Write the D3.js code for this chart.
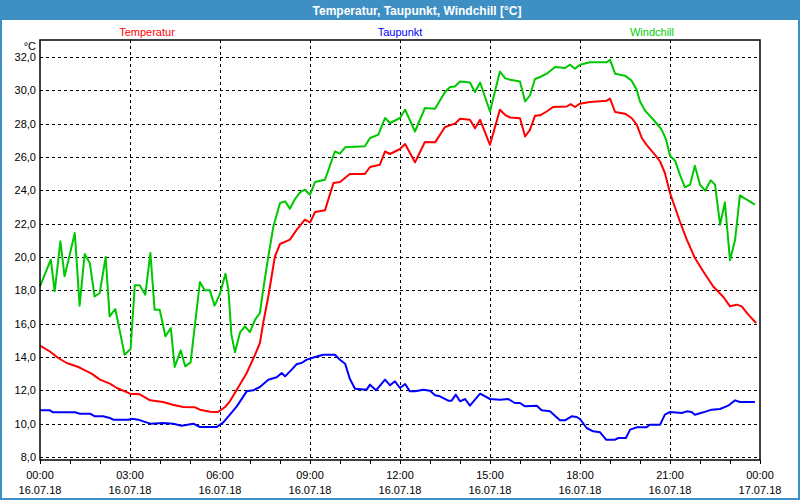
<!DOCTYPE html>
<html><head><meta charset="utf-8">
<script src="https://cdn.jsdelivr.net/npm/d3@7"></script>
<style>
html,body{margin:0;padding:0;background:#fff;}
svg{display:block;font-family:"Liberation Sans",Arial,sans-serif;}
</style></head>
<body><svg id="c" width="800" height="500"></svg>
<script>
const title = "Temperatur, Taupunkt, Windchill [°C]";
const seriesNames = ["Temperatur", "Taupunkt", "Windchill"];
const seriesColors = ["#ff0000", "#0000ff", "#00c800"];
const legendColors = ["#ff0000", "#0000ff", "#00d000"];
const unitLabel = "°C";

const xTickHours = [0, 3, 6, 9, 12, 15, 18, 21, 24];
const xTickTimes = ["00:00","03:00","06:00","09:00","12:00","15:00","18:00","21:00","00:00"];
const xTickDates = ["16.07.18","16.07.18","16.07.18","16.07.18","16.07.18","16.07.18","16.07.18","16.07.18","17.07.18"];
const yTicks = [8, 10, 12, 14, 16, 18, 20, 22, 24, 26, 28, 30, 32];

const tempHours = [0.00,0.33,0.61,0.89,1.28,1.50,1.72,2.00,2.33,2.56,2.83,3.00,3.33,3.67,4.10,4.43,4.77,5.17,5.33,5.67,5.93,6.17,6.33,6.56,6.89,7.17,7.33,7.44,7.61,7.83,8.00,8.33,8.56,8.83,9.00,9.17,9.50,9.78,10.00,10.33,10.83,11.00,11.33,11.50,11.67,12.00,12.17,12.50,12.83,13.17,13.50,13.83,14.00,14.33,14.50,14.67,15.00,15.33,15.50,15.67,16.00,16.17,16.33,16.50,16.67,16.89,17.10,17.56,17.69,17.83,18.00,18.33,18.89,19.00,19.17,19.50,19.72,19.89,20.06,20.22,20.50,20.67,20.83,21.00,21.33,21.56,21.83,22.11,22.44,22.78,23.00,23.22,23.39,23.61,23.87];
const tempValues = [14.68,14.33,13.94,13.64,13.40,13.20,13.00,12.64,12.40,12.14,11.94,11.80,11.76,11.40,11.30,11.14,11.00,10.98,10.84,10.72,10.70,11.00,11.34,12.04,13.04,14.14,14.84,16.04,17.63,20.03,20.78,21.04,21.64,22.24,22.07,22.70,22.80,24.44,24.50,24.98,24.98,25.40,25.54,26.33,26.18,26.48,26.78,25.68,26.90,26.88,27.80,28.00,28.29,28.23,27.73,28.23,26.73,28.83,28.53,28.37,28.33,27.23,27.63,28.47,28.50,28.73,29.00,29.03,29.17,29.00,29.20,29.30,29.38,29.50,28.70,28.60,28.34,27.94,27.14,26.73,26.13,25.73,25.04,23.84,22.13,21.04,19.94,19.13,18.23,17.60,17.04,17.14,17.04,16.54,16.04];

const dewHours = [0.00,0.33,0.44,1.17,1.33,1.67,1.83,2.10,2.33,2.44,2.94,3.06,3.27,3.67,4.11,4.44,4.72,5.11,5.33,5.89,6.11,6.33,6.56,6.89,7.11,7.33,7.61,7.89,8.06,8.17,8.39,8.56,8.72,8.89,9.17,9.44,9.83,10.00,10.17,10.33,10.50,10.89,11.00,11.20,11.50,11.67,11.83,12.00,12.17,12.33,12.50,12.78,13.00,13.17,13.33,13.61,13.72,13.86,14.00,14.17,14.33,14.67,15.00,15.33,15.61,15.83,16.00,16.17,16.56,16.72,17.00,17.33,17.50,17.72,17.89,18.00,18.22,18.44,18.67,18.87,19.17,19.28,19.53,19.67,19.89,20.22,20.33,20.67,20.83,21.00,21.39,21.56,21.72,21.83,22.11,22.39,22.67,22.94,23.17,23.33,23.83];
const dewValues = [10.80,10.80,10.68,10.68,10.60,10.60,10.44,10.44,10.34,10.24,10.24,10.30,10.24,10.00,10.04,10.00,9.88,10.00,9.80,9.80,10.08,10.54,11.04,11.94,12.00,12.20,12.64,12.78,13.04,12.84,13.24,13.58,13.64,13.84,14.00,14.14,14.14,13.84,13.60,12.68,12.10,12.04,12.34,12.00,12.64,12.30,12.54,12.14,12.38,11.94,11.94,12.04,11.98,11.70,11.64,11.38,11.38,11.74,11.34,11.48,11.08,11.80,11.48,11.44,11.48,11.24,11.24,11.04,11.08,10.80,10.74,10.20,10.20,10.44,10.40,10.28,9.74,9.54,9.48,9.04,9.04,9.14,9.14,9.64,9.78,9.78,9.94,9.94,10.54,10.70,10.64,10.74,10.70,10.54,10.68,10.84,10.88,11.08,11.40,11.30,11.30];

const chillHours = [0.00,0.36,0.49,0.68,0.82,1.16,1.32,1.49,1.66,1.82,1.99,2.19,2.32,2.51,2.82,3.02,3.16,3.32,3.51,3.68,3.82,3.99,4.18,4.36,4.49,4.69,4.84,5.02,5.33,5.49,5.66,5.82,5.99,6.18,6.28,6.38,6.50,6.67,6.83,7.00,7.17,7.33,7.44,7.61,7.78,8.00,8.17,8.33,8.50,8.67,8.83,9.00,9.17,9.50,9.83,10.00,10.17,10.83,11.00,11.28,11.50,11.67,12.00,12.17,12.50,12.83,13.17,13.50,13.67,13.83,14.00,14.33,14.50,14.67,15.00,15.33,15.50,15.67,16.00,16.17,16.33,16.50,16.67,16.89,17.17,17.50,17.67,17.83,18.00,18.33,18.89,19.00,19.17,19.50,19.72,19.89,20.00,20.17,20.50,20.72,20.87,21.00,21.17,21.33,21.50,21.67,21.83,22.00,22.17,22.36,22.50,22.67,22.83,23.00,23.17,23.33,23.56,23.83];
const chillValues = [18.24,19.84,17.94,20.94,18.84,21.44,17.08,20.18,19.64,17.63,17.84,20.00,16.44,16.88,14.14,14.48,18.30,18.30,17.74,20.24,16.84,16.84,15.24,15.74,13.40,14.40,13.44,13.68,18.50,18.00,18.00,17.08,17.74,19.00,18.04,15.34,14.28,15.48,15.84,15.50,16.24,16.64,18.04,20.03,21.83,23.24,23.34,22.90,23.48,23.88,24.04,23.74,24.50,24.64,26.33,26.20,26.58,26.64,27.14,27.34,28.34,28.04,28.34,28.84,27.53,28.94,28.90,29.90,30.20,30.23,30.53,30.47,29.90,30.47,28.73,31.13,30.73,30.63,30.53,29.33,29.69,30.68,30.80,31.00,31.40,31.34,31.54,31.30,31.54,31.68,31.68,31.84,31.00,30.88,30.58,30.04,29.33,28.78,28.13,27.64,27.04,26.07,25.78,24.94,24.18,24.34,25.48,24.34,23.98,24.60,24.34,21.94,23.28,19.80,21.04,23.70,23.44,23.14];

const svg = d3.select("#c");
const W = 800, H = 500;
const L = 40, R = 760, T = 40, B = 460;

// frame / title bar
svg.append("rect").attr("x",0).attr("y",0).attr("width",W).attr("height",H).attr("fill","#3d8fc4");
svg.append("rect").attr("x",2).attr("y",20).attr("width",W-4).attr("height",H-22).attr("fill","#ffffff");
svg.append("text").attr("x",417).attr("y",14.5).attr("text-anchor","middle")
  .attr("fill","#fff").attr("font-weight","bold").attr("font-size","12px").text(title);

const x = d3.scaleLinear().domain([0,24]).range([L,R]);
const y = d3.scaleLinear().domain([7.82,33.02]).range([B,T]);

// grid
const g = svg.append("g");
g.selectAll("line.h").data(yTicks).enter().append("line")
  .attr("x1",L).attr("x2",R).attr("y1",d=>Math.round(y(d))+0.5).attr("y2",d=>Math.round(y(d))+0.5)
  .attr("stroke","#000").attr("stroke-width",1).attr("stroke-dasharray","3,3");
g.selectAll("line.v").data(xTickHours.slice(1,-1)).enter().append("line")
  .attr("y1",T).attr("y2",B).attr("x1",d=>Math.round(x(d))+0.5).attr("x2",d=>Math.round(x(d))+0.5)
  .attr("stroke","#000").attr("stroke-width",1).attr("stroke-dasharray","3,3");

// lines
const series = [
  {h: tempHours, v: tempValues},
  {h: dewHours, v: dewValues},
  {h: chillHours, v: chillValues}
];
const line = d3.line().x(d=>x(d[0])).y(d=>y(d[1]));
series.forEach((s,i)=>{
  const pts = s.h.map((h,j)=>[h, s.v[j]]);
  svg.append("path").datum(pts).attr("d",line).attr("fill","none")
    .attr("stroke",seriesColors[i]).attr("stroke-width",2).attr("stroke-linejoin","round");
});

// plot frame
svg.append("rect").attr("x",L).attr("y",T).attr("width",R-L).attr("height",B-T)
  .attr("fill","none").attr("stroke","#000").attr("stroke-width",1.5);

// x axis minor ticks
const xAxis = d3.axisBottom(x).tickValues(d3.range(0,25,1)).tickSize(4).tickFormat("");
const xa = svg.append("g").attr("transform",`translate(0,${B})`).call(xAxis);
xa.select(".domain").remove();
xa.selectAll("line").attr("stroke","#000");

// x labels
const xl = svg.append("g").attr("font-size","11px").attr("fill","#000").attr("text-anchor","middle");
xTickHours.forEach((h,i)=>{
  xl.append("text").attr("x",x(h)).attr("y",479).text(xTickTimes[i]);
  xl.append("text").attr("x",x(h)).attr("y",494).text(xTickDates[i]);
});

// y axis labels
const yAxis = d3.axisLeft(y).tickValues(yTicks).tickSize(0).tickPadding(4)
  .tickFormat(d=>d3.format(".1f")(d).replace(".",","));
const ya = svg.append("g").attr("transform",`translate(${L-0},0)`).call(yAxis);
ya.select(".domain").remove();
ya.selectAll("text").attr("font-size","11px").attr("font-family","Liberation Sans, Arial, sans-serif").attr("fill","#000");

svg.append("text").attr("x",36).attr("y",50).attr("text-anchor","end").attr("font-size","11px").text(unitLabel);

// legend
const legendX = [147, 400, 652];
seriesNames.forEach((n,i)=>{
  svg.append("text").attr("x",legendX[i]).attr("y",36).attr("text-anchor","middle")
    .attr("font-size","11px").attr("fill",legendColors[i]).text(n);
});
</script></body></html>
